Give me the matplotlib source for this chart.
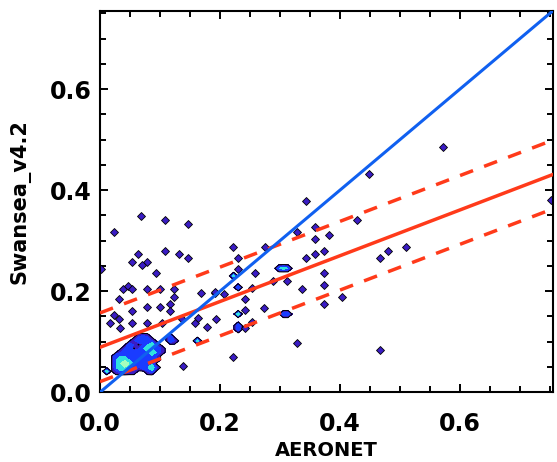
import numpy as np
import matplotlib.pyplot as plt
from matplotlib.ticker import MultipleLocator, FormatStrFormatter

# isolated collocations (AERONET AOD, Swansea_v4.2 AOD)
pt_x = [0.069, 0.108, 0.146, 0.024, 0.108, 0.131, 0.146, 0.063, 0.054, 0.078,
        0.070, 0.093, 0.001, 0.039, 0.047, 0.054, 0.078, 0.100, 0.123, 0.169,
        0.192, 0.032, 0.123, 0.054, 0.078, 0.100, 0.116, 0.116, 0.024, 0.032,
        0.017, 0.034, 0.054, 0.078, 0.103, 0.136, 0.159, 0.178, 0.194, 0.138,
        0.221, 0.275, 0.343, 0.359, 0.382, 0.359, 0.329, 0.374, 0.359, 0.343,
        0.230, 0.230, 0.258, 0.374, 0.374, 0.312, 0.289, 0.336, 0.253, 0.191,
        0.207, 0.242, 0.571, 0.449, 0.428, 0.510, 0.480, 0.466, 0.404, 0.373,
        0.274, 0.253, 0.328, 0.466, 0.752, 0.242, 0.242, 0.164, 0.221]
pt_y = [0.349, 0.341, 0.333, 0.318, 0.280, 0.274, 0.265, 0.274, 0.258, 0.258,
        0.251, 0.236, 0.244, 0.205, 0.211, 0.205, 0.205, 0.205, 0.205, 0.197,
        0.197, 0.184, 0.189, 0.160, 0.168, 0.168, 0.175, 0.160, 0.153, 0.145,
        0.137, 0.128, 0.137, 0.137, 0.137, 0.145, 0.137, 0.130, 0.145, 0.052,
        0.288, 0.288, 0.379, 0.327, 0.312, 0.303, 0.317, 0.280, 0.274, 0.265,
        0.265, 0.244, 0.236, 0.236, 0.212, 0.220, 0.220, 0.204, 0.206, 0.199,
        0.195, 0.184, 0.485, 0.432, 0.341, 0.288, 0.280, 0.265, 0.189, 0.175,
        0.166, 0.140, 0.098, 0.084, 0.380, 0.163, 0.127, 0.146, 0.069]

# small groups of repeated collocations (x, y, count)
grp_x = [0.008, 0.114, 0.121, 0.120, 0.161, 0.228, 0.229, 0.229, 0.221, 0.233,
         0.298, 0.306, 0.313, 0.305, 0.313]
grp_y = [0.044, 0.100, 0.100, 0.108, 0.105, 0.153, 0.133, 0.126, 0.228, 0.204,
         0.244, 0.244, 0.244, 0.152, 0.152]
grp_n = [3, 2, 1, 2, 3, 3, 2, 2, 3, 2, 2, 3, 2, 2, 2]

# dense cluster close to the origin: counts on a small grid
cl_x = [0.026, 0.034, 0.042, 0.049, 0.057, 0.064, 0.072, 0.079, 0.087, 0.094, 0.102]
cl_y = [0.110, 0.102, 0.094, 0.087, 0.079, 0.072, 0.064, 0.057, 0.049, 0.042]
cl_n = [[0, 0, 0, 0, 0, 1, 2, 1, 0, 0, 0],
        [0, 0, 0, 0, 1, 2, 2, 2, 1, 0, 0],
        [0, 0, 0, 2, 1, 0, 1, 2, 3, 1, 0],
        [0, 0, 1, 2, 0, 1, 2, 3, 2, 2, 1],
        [0, 1, 2, 2, 2, 2, 2, 2, 3, 2, 1],
        [2, 2, 2, 2, 2, 2, 2, 2, 2, 1, 0],
        [2, 3, 3, 2, 2, 0, 2, 2, 2, 1, 0],
        [2, 3, 4, 3, 2, 2, 2, 1, 2, 0, 0],
        [2, 3, 3, 2, 2, 1, 2, 2, 3, 1, 0],
        [1, 2, 2, 1, 1, 0, 0, 1, 2, 0, 0]]

# regression line and its envelope
fit_slope = 0.453
fit_icpt = 0.089
fit_band = 0.068

lim = 0.755
nbin = 100

# groups + cluster go into a binned density field
xs = list(grp_x)
ys = list(grp_y)
ws = list(grp_n)
for j, yv in enumerate(cl_y):
    for i, xv in enumerate(cl_x):
        if cl_n[j][i] > 0:
            xs.append(xv)
            ys.append(yv)
            ws.append(cl_n[j][i])

H, xe, ye = np.histogram2d(xs, ys, bins=nbin, range=[[0, lim], [0, lim]], weights=ws)
xc = 0.5 * (xe[:-1] + xe[1:])
yc = 0.5 * (ye[:-1] + ye[1:])

fig = plt.figure(figsize=(5.57, 4.62), dpi=100)
ax = fig.add_axes([0.1795, 0.1509, 0.8133, 0.8259])

levels = [0.12, 1.1, 2.1, 3.1, 100]
cols = ['#3a1cc4', '#1a3cff', '#30e2e0', '#a6ffbc']
ax.contourf(xc, yc, H.T, levels=levels, colors=cols, zorder=1)
ax.contour(xc, yc, H.T, levels=[0.12], colors='black', linewidths=0.7, zorder=2)

# single points as small diamonds
ax.plot(pt_x, pt_y, linestyle='none', marker='D', markersize=4.0,
        markerfacecolor='#3a1cc4', markeredgecolor='black', markeredgewidth=0.6,
        zorder=2)

# 1:1 line
xx = np.array([0, lim])
ax.plot(xx, xx, color='#1060f0', lw=2.2, zorder=4)

# fit and envelope
red = '#ff3a1a'
ax.plot(xx, fit_icpt + fit_slope * xx, color=red, lw=2.5, zorder=3)
ax.plot(xx, fit_icpt + fit_band + fit_slope * xx, color=red, lw=2.5,
        dashes=(4.0, 3.4), dash_capstyle='butt', zorder=3)
ax.plot(xx, fit_icpt - fit_band + fit_slope * xx, color=red, lw=2.5,
        dashes=(4.0, 3.4), dash_capstyle='butt', zorder=3)

ax.set_xlim(0, lim)
ax.set_ylim(0, lim)
ax.set_xticks([0.0, 0.2, 0.4, 0.6])
ax.set_yticks([0.0, 0.2, 0.4, 0.6])
ax.xaxis.set_minor_locator(MultipleLocator(0.05))
ax.yaxis.set_minor_locator(MultipleLocator(0.05))
ax.xaxis.set_major_formatter(FormatStrFormatter('%.1f'))
ax.yaxis.set_major_formatter(FormatStrFormatter('%.1f'))

ax.tick_params(which='both', direction='in', top=True, right=True, width=1.4)
ax.tick_params(which='major', length=6)
ax.tick_params(which='minor', length=4)
ax.tick_params(axis='x', which='major', pad=14)
ax.tick_params(axis='y', which='major', pad=6)
for lab in ax.get_xticklabels() + ax.get_yticklabels():
    lab.set_fontsize(17)
    lab.set_fontweight('bold')
for s in ax.spines.values():
    s.set_linewidth(1.5)

ax.set_xlabel('AERONET', fontsize=14, fontweight='bold', labelpad=4)
ax.set_ylabel('Swansea_v4.2', fontsize=15, fontweight='bold', labelpad=14)

fig.savefig('out.png', dpi=100)
